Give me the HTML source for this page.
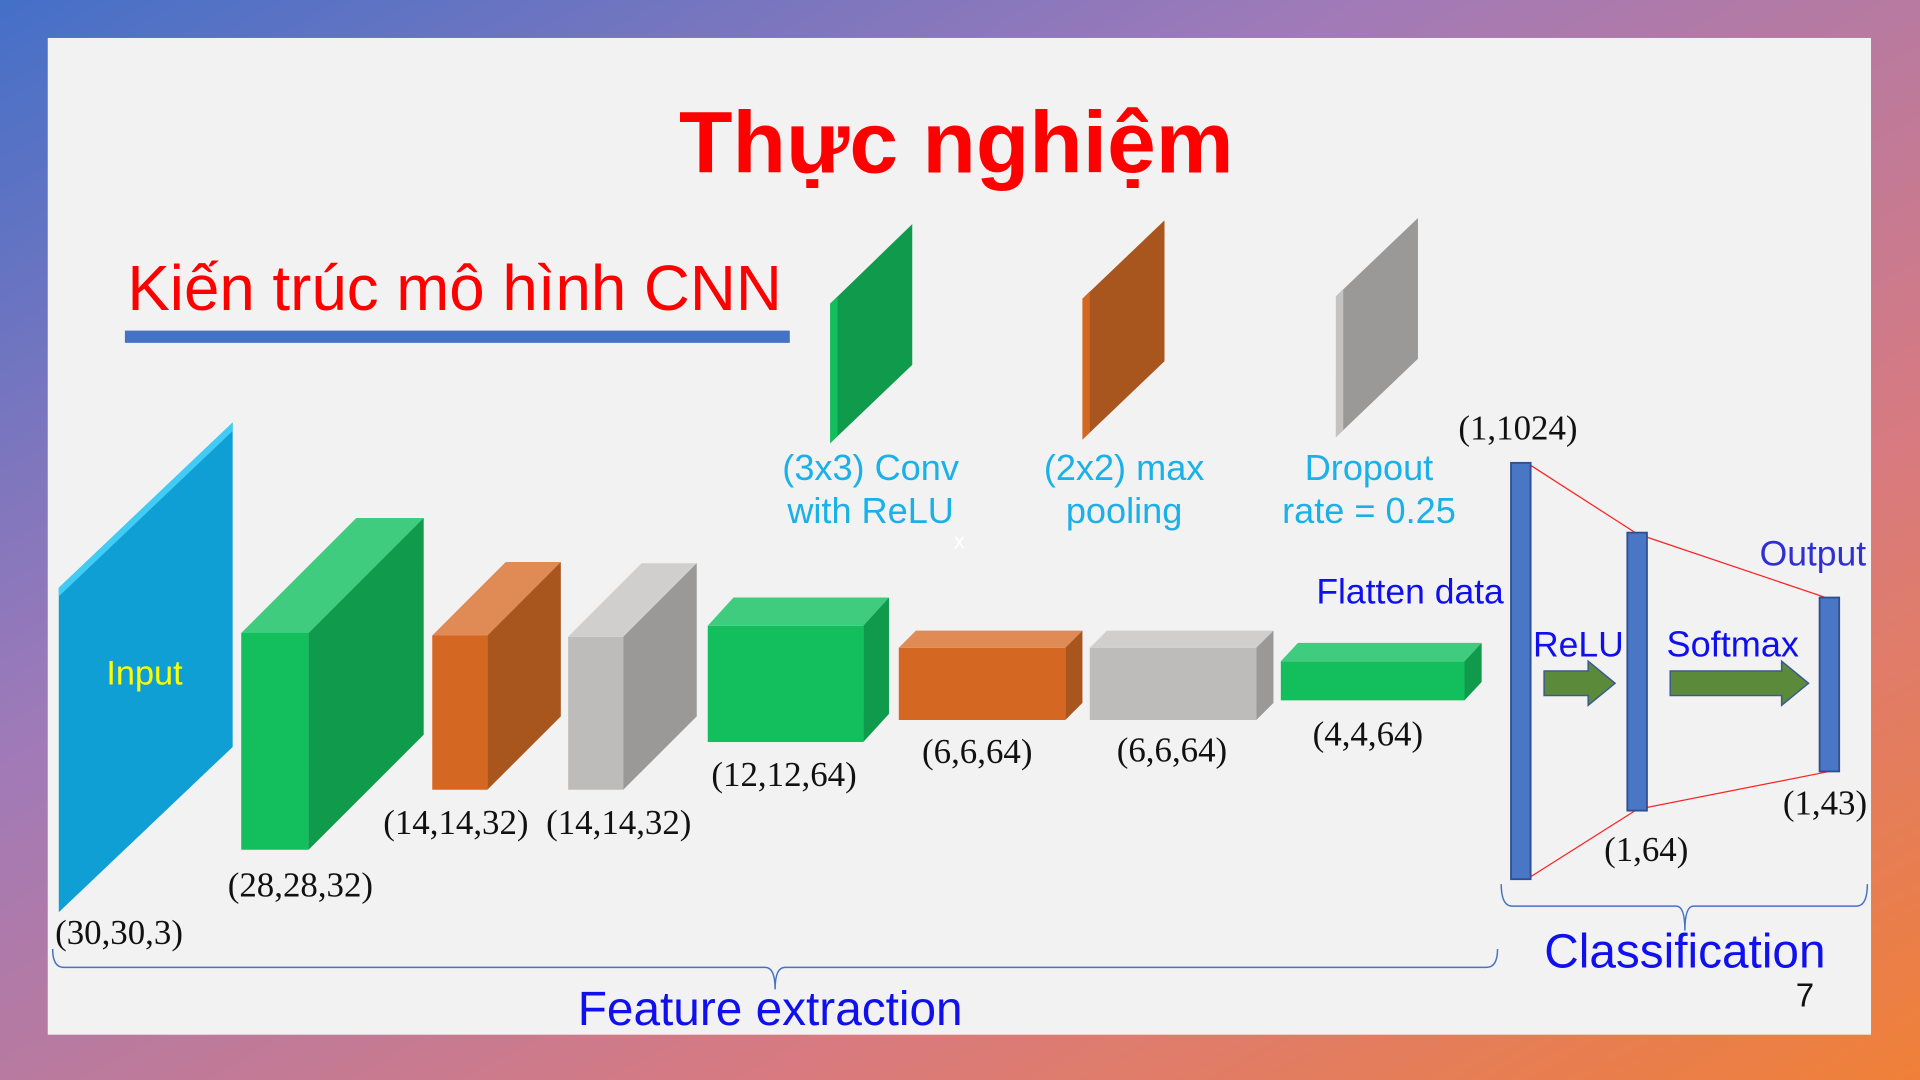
<!DOCTYPE html>
<html><head><meta charset="utf-8"><style>
html,body{margin:0;padding:0;width:1920px;height:1080px;overflow:hidden}
svg{display:block}
.sf{font-family:"Liberation Serif",serif;font-size:28.5px;fill:#111}
.ss{font-family:"Liberation Sans","DejaVu Sans",sans-serif}
</style></head><body>
<svg width="1920" height="1080" viewBox="0 0 1568 882" xmlns="http://www.w3.org/2000/svg">
<defs>
<linearGradient id="bg" x1="0" y1="0" x2="1" y2="1">
<stop offset="0" stop-color="#4470c8"/><stop offset="0.35" stop-color="#a07ab8"/><stop offset="0.7" stop-color="#d87a80"/><stop offset="1" stop-color="#f08038"/>
</linearGradient>
</defs>
<rect width="1568" height="882" fill="url(#bg)"/>
<rect x="39" y="31" width="1489" height="814" fill="#f2f2f2"/>
<text class="ss" x="781" y="141" font-size="71.5" font-weight="bold" fill="#ff0000" text-anchor="middle">Thực nghiệm</text>
<text class="ss" x="104" y="253" font-size="52" fill="#ff0000">Kiến trúc mô hình CNN</text>
<rect x="102" y="270" width="543" height="10" fill="#4472c4"/>

<g>
<polygon points="48,480 190,345 190,610 48,745" fill="#109fd5"/>
<polygon points="48,480 190,345 190,352 48,487" fill="#40ccf4"/>
<text class="ss" x="118" y="559" font-size="28" fill="#ffff00" text-anchor="middle">Input</text>
</g>

<g id="boxes"></g>

<g>
<polygon points="678,248 745,183 745,298 678,362" fill="#0f9a4c"/>
<polygon points="678,248 684,242 684,356 678,362" fill="#13bf5d"/>
<text class="ss" x="711" y="392" font-size="29.5" fill="#1ab0e8" text-anchor="middle">(3x3) Conv</text>
<text class="ss" x="711" y="427" font-size="29.5" fill="#1ab0e8" text-anchor="middle">with ReLU</text>
</g>
<g>
<polygon points="884,244 951,180 951,295 884,359" fill="#a8561e"/>
<polygon points="884,244 890,238 890,353 884,359" fill="#d46823"/>
<text class="ss" x="918" y="392" font-size="29.5" fill="#1ab0e8" text-anchor="middle">(2x2) max</text>
<text class="ss" x="918" y="427" font-size="29.5" fill="#1ab0e8" text-anchor="middle">pooling</text>
</g>
<g>
<polygon points="1091,242 1158,178 1158,293 1091,357" fill="#9a9998"/>
<polygon points="1091,242 1097,236 1097,351 1091,357" fill="#c4c3c2"/>
<text class="ss" x="1118" y="392" font-size="29.5" fill="#1ab0e8" text-anchor="middle">Dropout</text>
<text class="ss" x="1118" y="427" font-size="29.5" fill="#1ab0e8" text-anchor="middle">rate = 0.25</text>
</g>
<text class="ss" x="779" y="448" font-size="18" fill="#ffffff">x</text>

<text class="sf" x="45" y="771">(30,30,3)</text>
<text class="sf" x="186" y="732">(28,28,32)</text>
<text class="sf" x="313" y="681">(14,14,32)</text>
<text class="sf" x="446" y="681">(14,14,32)</text>
<text class="sf" x="581" y="642">(12,12,64)</text>
<text class="sf" x="753" y="623">(6,6,64)</text>
<text class="sf" x="912" y="622">(6,6,64)</text>
<text class="sf" x="1072" y="609">(4,4,64)</text>
<text class="sf" x="1191" y="359">(1,1024)</text>
<text class="sf" x="1310" y="703">(1,64)</text>
<text class="sf" x="1456" y="665">(1,43)</text>

<text class="ss" x="1075" y="493" font-size="29" fill="#1010ee">Flatten data</text>

<g stroke="#ff2020" stroke-width="1">
<line x1="1250" y1="380" x2="1337" y2="436"/><line x1="1250" y1="716" x2="1337" y2="661"/>
<line x1="1337" y1="436" x2="1494" y2="489"/><line x1="1337" y1="661" x2="1494" y2="630"/>
</g>
<rect x="1234" y="378" width="16" height="340" fill="#4a76c6" stroke="#2f5090" stroke-width="1.5"/>
<rect x="1329" y="435" width="16" height="227" fill="#4a76c6" stroke="#2f5090" stroke-width="1.5"/>
<rect x="1486" y="488" width="16" height="142" fill="#4a76c6" stroke="#2f5090" stroke-width="1.5"/>
<polygon points="1261,548 1297,548 1297,540 1319,558 1297,576 1297,568 1261,568" fill="#5a8a3a" stroke="#3a5a90" stroke-width="1.2"/>
<polygon points="1364,548 1455,548 1455,540 1477,558 1455,576 1455,568 1364,568" fill="#5a8a3a" stroke="#3a5a90" stroke-width="1.2"/>
<text class="ss" x="1252" y="536" font-size="29" fill="#1010ee">ReLU</text>
<text class="ss" x="1361" y="536" font-size="29.5" fill="#1010ee">Softmax</text>
<text class="ss" x="1437" y="462" font-size="29" fill="#3030d0">Output</text>

<path d="M43,775 Q43,790 52,790 L625,790 Q633,790 633,808 Q633,790 641,790 L1214,790 Q1223,790 1223,775" fill="none" stroke="#4472c4" stroke-width="1.2"/>
<path d="M1226,722 Q1226,740 1235,740 L1369,740 Q1376,740 1376,760 Q1376,740 1383,740 L1516,740 Q1525,740 1525,722" fill="none" stroke="#4472c4" stroke-width="1.2"/>
<text class="ss" x="629" y="837" font-size="39" fill="#1010ee" text-anchor="middle">Feature extraction</text>
<text class="ss" x="1376" y="790" font-size="39" fill="#1010ee" text-anchor="middle">Classification</text>
<text class="ss" x="1474" y="822" font-size="27" fill="#111" text-anchor="middle">7</text>
</svg>
<script>
const boxNames=['conv1','pool1','drop1','conv2','pool2','drop2','conv3'];
const boxKinds=['g','o','y','g','o','y','g'];
const boxGeom=[[197,517,55,177,94,94],[353,519,45,126,60,60],[464,520,45,125,60,60],[578,511,127,95,21,23],[734,529,136,59,14,14],[890,529,136,59,14,14],[1046,540,150,32,14,15]];
const cols={g:['#13bf5d','#40cc7f','#0f9a4c'],o:['#d46823','#e08a55','#a8561e'],y:['#bdbcbb','#d0cfce','#9a9998']};
const g=document.getElementById('boxes');
const NS='http://www.w3.org/2000/svg';
boxGeom.forEach((b,i)=>{
 const [x,y,w,h,dx,dy]=b,c=cols[boxKinds[i]];
 const grp=document.createElementNS(NS,'g');
 
 
 const polys=[[[x,y],[x+w,y],[x+w,y+h],[x,y+h]],[[x,y],[x+w,y],[x+w+dx,y-dy],[x+dx,y-dy]],[[x+w,y],[x+w+dx,y-dy],[x+w+dx,y+h-dy],[x+w,y+h]]];
 polys.forEach((p,j)=>{const e=document.createElementNS(NS,'polygon');e.setAttribute('points',p.map(q=>q.join(',')).join(' '));e.setAttribute('fill',c[j]);grp.appendChild(e);});
 g.appendChild(grp);
});
</script>
</body></html>
